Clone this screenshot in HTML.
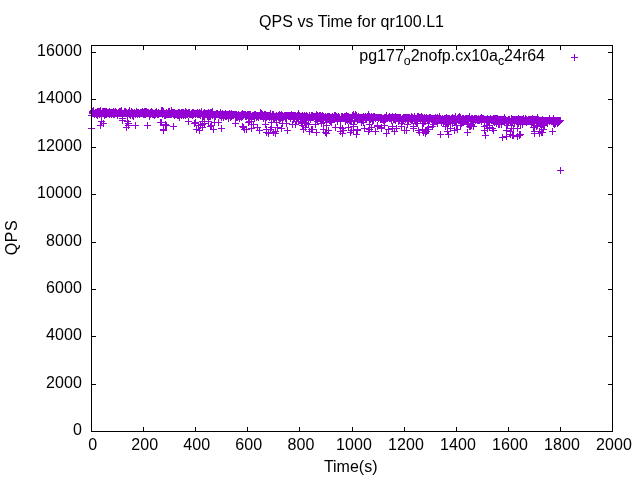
<!DOCTYPE html>
<html><head><meta charset="utf-8"><title>QPS vs Time for qr100.L1</title>
<style>
html,body{margin:0;padding:0;background:#fff;}
svg{display:block;}
text{font-family:"Liberation Sans",sans-serif;font-size:16px;fill:#000;}
</style></head><body>
<svg width="640" height="480" viewBox="0 0 640 480">
<rect width="640" height="480" fill="#fff"/>
<text x="351.55" y="27.3" text-anchor="middle" letter-spacing="0.04">QPS vs Time for qr100.L1</text>
<text transform="translate(16.7,237.5) rotate(-90)" text-anchor="middle" letter-spacing="0.5">QPS</text>
<text x="350.7" y="471.7" text-anchor="middle">Time(s)</text>
<text x="545" y="61" text-anchor="end">pg177<tspan font-size="12.4" dy="3.7">o</tspan><tspan dy="-3.7">2nofp.cx10a</tspan><tspan font-size="12.4" dy="3.7">c</tspan><tspan dy="-3.7">24r64</tspan></text>
<text x="82" y="435.0" text-anchor="end" letter-spacing="0.1">0</text><text x="82" y="388.0" text-anchor="end" letter-spacing="0.1">2000</text><text x="82" y="340.0" text-anchor="end" letter-spacing="0.1">4000</text><text x="82" y="293.0" text-anchor="end" letter-spacing="0.1">6000</text><text x="82" y="246.0" text-anchor="end" letter-spacing="0.1">8000</text><text x="82" y="198.0" text-anchor="end" letter-spacing="0.1">10000</text><text x="82" y="151.0" text-anchor="end" letter-spacing="0.1">12000</text><text x="82" y="103.0" text-anchor="end" letter-spacing="0.1">14000</text><text x="82" y="56.0" text-anchor="end" letter-spacing="0.1">16000</text><text x="92.8" y="450" text-anchor="middle" letter-spacing="0.1">0</text><text x="144.8" y="450" text-anchor="middle" letter-spacing="0.1">200</text><text x="196.8" y="450" text-anchor="middle" letter-spacing="0.1">400</text><text x="248.8" y="450" text-anchor="middle" letter-spacing="0.1">600</text><text x="300.9" y="450" text-anchor="middle" letter-spacing="0.1">800</text><text x="353.9" y="450" text-anchor="middle" letter-spacing="0.1">1000</text><text x="405.9" y="450" text-anchor="middle" letter-spacing="0.1">1200</text><text x="457.9" y="450" text-anchor="middle" letter-spacing="0.1">1400</text><text x="509.9" y="450" text-anchor="middle" letter-spacing="0.1">1600</text><text x="561.9" y="450" text-anchor="middle" letter-spacing="0.1">1800</text><text x="613.9" y="450" text-anchor="middle" letter-spacing="0.1">2000</text>
<path d="M88.0 128.5h7m-3.5-3.5v7M88.0 115.5h7m-3.5-3.5v7M89.0 112.5h7m-3.5-3.5v7M89.0 111.5h7m-3.5-3.5v7M89.0 113.5h7m-3.5-3.5v7M89.0 113.5h7m-3.5-3.5v7M90.0 113.5h7m-3.5-3.5v7M90.0 113.5h7m-3.5-3.5v7M90.0 112.5h7m-3.5-3.5v7M90.0 110.5h7m-3.5-3.5v7M91.0 114.5h7m-3.5-3.5v7M91.0 113.5h7m-3.5-3.5v7M91.0 113.5h7m-3.5-3.5v7M91.0 113.5h7m-3.5-3.5v7M92.0 113.5h7m-3.5-3.5v7M92.0 112.5h7m-3.5-3.5v7M92.0 112.5h7m-3.5-3.5v7M92.0 113.5h7m-3.5-3.5v7M93.0 112.5h7m-3.5-3.5v7M93.0 114.5h7m-3.5-3.5v7M93.0 112.5h7m-3.5-3.5v7M93.0 112.5h7m-3.5-3.5v7M94.0 114.5h7m-3.5-3.5v7M94.0 115.5h7m-3.5-3.5v7M94.0 111.5h7m-3.5-3.5v7M95.0 113.5h7m-3.5-3.5v7M95.0 111.5h7m-3.5-3.5v7M95.0 112.5h7m-3.5-3.5v7M95.0 112.5h7m-3.5-3.5v7M96.0 112.5h7m-3.5-3.5v7M96.0 113.5h7m-3.5-3.5v7M96.0 114.5h7m-3.5-3.5v7M96.0 111.5h7m-3.5-3.5v7M97.0 110.5h7m-3.5-3.5v7M97.0 110.5h7m-3.5-3.5v7M97.0 125.5h7m-3.5-3.5v7M97.0 113.5h7m-3.5-3.5v7M98.0 114.5h7m-3.5-3.5v7M98.0 121.5h7m-3.5-3.5v7M98.0 113.5h7m-3.5-3.5v7M98.0 114.5h7m-3.5-3.5v7M99.0 111.5h7m-3.5-3.5v7M99.0 112.5h7m-3.5-3.5v7M99.0 113.5h7m-3.5-3.5v7M99.0 113.5h7m-3.5-3.5v7M100.0 113.5h7m-3.5-3.5v7M100.0 123.5h7m-3.5-3.5v7M100.0 111.5h7m-3.5-3.5v7M101.0 112.5h7m-3.5-3.5v7M101.0 113.5h7m-3.5-3.5v7M101.0 111.5h7m-3.5-3.5v7M101.0 115.5h7m-3.5-3.5v7M102.0 113.5h7m-3.5-3.5v7M102.0 111.5h7m-3.5-3.5v7M102.0 112.5h7m-3.5-3.5v7M102.0 114.5h7m-3.5-3.5v7M103.0 113.5h7m-3.5-3.5v7M103.0 114.5h7m-3.5-3.5v7M103.0 113.5h7m-3.5-3.5v7M103.0 111.5h7m-3.5-3.5v7M104.0 112.5h7m-3.5-3.5v7M104.0 112.5h7m-3.5-3.5v7M104.0 112.5h7m-3.5-3.5v7M104.0 113.5h7m-3.5-3.5v7M105.0 113.5h7m-3.5-3.5v7M105.0 113.5h7m-3.5-3.5v7M105.0 112.5h7m-3.5-3.5v7M105.0 112.5h7m-3.5-3.5v7M106.0 112.5h7m-3.5-3.5v7M106.0 111.5h7m-3.5-3.5v7M106.0 114.5h7m-3.5-3.5v7M106.0 112.5h7m-3.5-3.5v7M107.0 112.5h7m-3.5-3.5v7M107.0 113.5h7m-3.5-3.5v7M107.0 113.5h7m-3.5-3.5v7M108.0 112.5h7m-3.5-3.5v7M108.0 114.5h7m-3.5-3.5v7M108.0 112.5h7m-3.5-3.5v7M108.0 112.5h7m-3.5-3.5v7M109.0 112.5h7m-3.5-3.5v7M109.0 113.5h7m-3.5-3.5v7M109.0 112.5h7m-3.5-3.5v7M109.0 112.5h7m-3.5-3.5v7M110.0 111.5h7m-3.5-3.5v7M110.0 114.5h7m-3.5-3.5v7M110.0 112.5h7m-3.5-3.5v7M110.0 113.5h7m-3.5-3.5v7M111.0 113.5h7m-3.5-3.5v7M111.0 114.5h7m-3.5-3.5v7M111.0 112.5h7m-3.5-3.5v7M111.0 113.5h7m-3.5-3.5v7M112.0 112.5h7m-3.5-3.5v7M112.0 113.5h7m-3.5-3.5v7M112.0 111.5h7m-3.5-3.5v7M112.0 113.5h7m-3.5-3.5v7M113.0 112.5h7m-3.5-3.5v7M113.0 112.5h7m-3.5-3.5v7M113.0 113.5h7m-3.5-3.5v7M114.0 115.5h7m-3.5-3.5v7M114.0 113.5h7m-3.5-3.5v7M114.0 113.5h7m-3.5-3.5v7M114.0 114.5h7m-3.5-3.5v7M115.0 113.5h7m-3.5-3.5v7M115.0 113.5h7m-3.5-3.5v7M115.0 112.5h7m-3.5-3.5v7M115.0 112.5h7m-3.5-3.5v7M116.0 113.5h7m-3.5-3.5v7M116.0 111.5h7m-3.5-3.5v7M116.0 112.5h7m-3.5-3.5v7M116.0 113.5h7m-3.5-3.5v7M117.0 112.5h7m-3.5-3.5v7M117.0 113.5h7m-3.5-3.5v7M117.0 111.5h7m-3.5-3.5v7M117.0 113.5h7m-3.5-3.5v7M118.0 113.5h7m-3.5-3.5v7M118.0 112.5h7m-3.5-3.5v7M118.0 113.5h7m-3.5-3.5v7M118.0 110.5h7m-3.5-3.5v7M119.0 113.5h7m-3.5-3.5v7M119.0 118.5h7m-3.5-3.5v7M119.0 120.5h7m-3.5-3.5v7M120.0 113.5h7m-3.5-3.5v7M120.0 113.5h7m-3.5-3.5v7M120.0 113.5h7m-3.5-3.5v7M120.0 113.5h7m-3.5-3.5v7M121.0 112.5h7m-3.5-3.5v7M121.0 113.5h7m-3.5-3.5v7M121.0 112.5h7m-3.5-3.5v7M121.0 111.5h7m-3.5-3.5v7M122.0 112.5h7m-3.5-3.5v7M122.0 111.5h7m-3.5-3.5v7M122.0 113.5h7m-3.5-3.5v7M122.0 113.5h7m-3.5-3.5v7M123.0 112.5h7m-3.5-3.5v7M123.0 127.5h7m-3.5-3.5v7M123.0 113.5h7m-3.5-3.5v7M123.0 113.5h7m-3.5-3.5v7M124.0 113.5h7m-3.5-3.5v7M124.0 121.5h7m-3.5-3.5v7M124.0 116.5h7m-3.5-3.5v7M124.0 113.5h7m-3.5-3.5v7M125.0 112.5h7m-3.5-3.5v7M125.0 123.5h7m-3.5-3.5v7M125.0 125.5h7m-3.5-3.5v7M126.0 112.5h7m-3.5-3.5v7M126.0 113.5h7m-3.5-3.5v7M126.0 110.5h7m-3.5-3.5v7M126.0 114.5h7m-3.5-3.5v7M127.0 113.5h7m-3.5-3.5v7M127.0 113.5h7m-3.5-3.5v7M127.0 115.5h7m-3.5-3.5v7M127.0 113.5h7m-3.5-3.5v7M128.0 111.5h7m-3.5-3.5v7M128.0 113.5h7m-3.5-3.5v7M128.0 113.5h7m-3.5-3.5v7M128.0 113.5h7m-3.5-3.5v7M129.0 112.5h7m-3.5-3.5v7M129.0 113.5h7m-3.5-3.5v7M129.0 115.5h7m-3.5-3.5v7M129.0 112.5h7m-3.5-3.5v7M130.0 114.5h7m-3.5-3.5v7M130.0 113.5h7m-3.5-3.5v7M130.0 116.5h7m-3.5-3.5v7M130.0 113.5h7m-3.5-3.5v7M131.0 112.5h7m-3.5-3.5v7M131.0 113.5h7m-3.5-3.5v7M131.0 113.5h7m-3.5-3.5v7M132.0 114.5h7m-3.5-3.5v7M132.0 113.5h7m-3.5-3.5v7M132.0 125.5h7m-3.5-3.5v7M132.0 113.5h7m-3.5-3.5v7M133.0 112.5h7m-3.5-3.5v7M133.0 112.5h7m-3.5-3.5v7M133.0 111.5h7m-3.5-3.5v7M133.0 112.5h7m-3.5-3.5v7M134.0 112.5h7m-3.5-3.5v7M134.0 114.5h7m-3.5-3.5v7M134.0 113.5h7m-3.5-3.5v7M134.0 113.5h7m-3.5-3.5v7M135.0 112.5h7m-3.5-3.5v7M135.0 113.5h7m-3.5-3.5v7M135.0 112.5h7m-3.5-3.5v7M135.0 112.5h7m-3.5-3.5v7M136.0 113.5h7m-3.5-3.5v7M136.0 114.5h7m-3.5-3.5v7M136.0 113.5h7m-3.5-3.5v7M136.0 114.5h7m-3.5-3.5v7M137.0 113.5h7m-3.5-3.5v7M137.0 112.5h7m-3.5-3.5v7M137.0 113.5h7m-3.5-3.5v7M137.0 113.5h7m-3.5-3.5v7M138.0 113.5h7m-3.5-3.5v7M138.0 113.5h7m-3.5-3.5v7M138.0 112.5h7m-3.5-3.5v7M139.0 111.5h7m-3.5-3.5v7M139.0 113.5h7m-3.5-3.5v7M139.0 112.5h7m-3.5-3.5v7M139.0 111.5h7m-3.5-3.5v7M140.0 112.5h7m-3.5-3.5v7M140.0 113.5h7m-3.5-3.5v7M140.0 113.5h7m-3.5-3.5v7M140.0 114.5h7m-3.5-3.5v7M141.0 112.5h7m-3.5-3.5v7M141.0 111.5h7m-3.5-3.5v7M141.0 114.5h7m-3.5-3.5v7M141.0 114.5h7m-3.5-3.5v7M142.0 114.5h7m-3.5-3.5v7M142.0 113.5h7m-3.5-3.5v7M142.0 114.5h7m-3.5-3.5v7M142.0 111.5h7m-3.5-3.5v7M143.0 113.5h7m-3.5-3.5v7M143.0 111.5h7m-3.5-3.5v7M143.0 113.5h7m-3.5-3.5v7M143.0 112.5h7m-3.5-3.5v7M144.0 113.5h7m-3.5-3.5v7M144.0 125.5h7m-3.5-3.5v7M144.0 112.5h7m-3.5-3.5v7M145.0 112.5h7m-3.5-3.5v7M145.0 112.5h7m-3.5-3.5v7M145.0 113.5h7m-3.5-3.5v7M145.0 112.5h7m-3.5-3.5v7M146.0 115.5h7m-3.5-3.5v7M146.0 113.5h7m-3.5-3.5v7M146.0 116.5h7m-3.5-3.5v7M146.0 113.5h7m-3.5-3.5v7M147.0 114.5h7m-3.5-3.5v7M147.0 112.5h7m-3.5-3.5v7M147.0 113.5h7m-3.5-3.5v7M147.0 113.5h7m-3.5-3.5v7M148.0 112.5h7m-3.5-3.5v7M148.0 113.5h7m-3.5-3.5v7M148.0 111.5h7m-3.5-3.5v7M148.0 113.5h7m-3.5-3.5v7M149.0 114.5h7m-3.5-3.5v7M149.0 112.5h7m-3.5-3.5v7M149.0 114.5h7m-3.5-3.5v7M149.0 114.5h7m-3.5-3.5v7M150.0 114.5h7m-3.5-3.5v7M150.0 113.5h7m-3.5-3.5v7M150.0 113.5h7m-3.5-3.5v7M151.0 114.5h7m-3.5-3.5v7M151.0 113.5h7m-3.5-3.5v7M151.0 113.5h7m-3.5-3.5v7M151.0 115.5h7m-3.5-3.5v7M152.0 113.5h7m-3.5-3.5v7M152.0 113.5h7m-3.5-3.5v7M152.0 114.5h7m-3.5-3.5v7M152.0 112.5h7m-3.5-3.5v7M153.0 111.5h7m-3.5-3.5v7M153.0 113.5h7m-3.5-3.5v7M153.0 113.5h7m-3.5-3.5v7M153.0 113.5h7m-3.5-3.5v7M154.0 113.5h7m-3.5-3.5v7M154.0 113.5h7m-3.5-3.5v7M154.0 114.5h7m-3.5-3.5v7M154.0 114.5h7m-3.5-3.5v7M155.0 113.5h7m-3.5-3.5v7M155.0 114.5h7m-3.5-3.5v7M155.0 112.5h7m-3.5-3.5v7M155.0 113.5h7m-3.5-3.5v7M156.0 113.5h7m-3.5-3.5v7M156.0 113.5h7m-3.5-3.5v7M156.0 113.5h7m-3.5-3.5v7M157.0 113.5h7m-3.5-3.5v7M157.0 113.5h7m-3.5-3.5v7M157.0 122.5h7m-3.5-3.5v7M157.0 113.5h7m-3.5-3.5v7M158.0 112.5h7m-3.5-3.5v7M158.0 110.5h7m-3.5-3.5v7M158.0 122.5h7m-3.5-3.5v7M158.0 113.5h7m-3.5-3.5v7M159.0 110.5h7m-3.5-3.5v7M159.0 114.5h7m-3.5-3.5v7M159.0 114.5h7m-3.5-3.5v7M159.0 113.5h7m-3.5-3.5v7M160.0 111.5h7m-3.5-3.5v7M160.0 129.5h7m-3.5-3.5v7M160.0 130.5h7m-3.5-3.5v7M160.0 113.5h7m-3.5-3.5v7M161.0 114.5h7m-3.5-3.5v7M161.0 113.5h7m-3.5-3.5v7M161.0 115.5h7m-3.5-3.5v7M161.0 115.5h7m-3.5-3.5v7M162.0 115.5h7m-3.5-3.5v7M162.0 125.5h7m-3.5-3.5v7M162.0 124.5h7m-3.5-3.5v7M163.0 112.5h7m-3.5-3.5v7M163.0 114.5h7m-3.5-3.5v7M163.0 125.5h7m-3.5-3.5v7M163.0 113.5h7m-3.5-3.5v7M164.0 114.5h7m-3.5-3.5v7M164.0 114.5h7m-3.5-3.5v7M164.0 113.5h7m-3.5-3.5v7M164.0 114.5h7m-3.5-3.5v7M165.0 111.5h7m-3.5-3.5v7M165.0 114.5h7m-3.5-3.5v7M165.0 113.5h7m-3.5-3.5v7M165.0 113.5h7m-3.5-3.5v7M166.0 111.5h7m-3.5-3.5v7M166.0 113.5h7m-3.5-3.5v7M166.0 114.5h7m-3.5-3.5v7M166.0 112.5h7m-3.5-3.5v7M167.0 113.5h7m-3.5-3.5v7M167.0 113.5h7m-3.5-3.5v7M167.0 114.5h7m-3.5-3.5v7M167.0 113.5h7m-3.5-3.5v7M168.0 110.5h7m-3.5-3.5v7M168.0 113.5h7m-3.5-3.5v7M168.0 114.5h7m-3.5-3.5v7M168.0 114.5h7m-3.5-3.5v7M169.0 113.5h7m-3.5-3.5v7M169.0 112.5h7m-3.5-3.5v7M169.0 113.5h7m-3.5-3.5v7M170.0 113.5h7m-3.5-3.5v7M170.0 114.5h7m-3.5-3.5v7M170.0 126.5h7m-3.5-3.5v7M170.0 112.5h7m-3.5-3.5v7M171.0 112.5h7m-3.5-3.5v7M171.0 113.5h7m-3.5-3.5v7M171.0 115.5h7m-3.5-3.5v7M171.0 114.5h7m-3.5-3.5v7M172.0 113.5h7m-3.5-3.5v7M172.0 113.5h7m-3.5-3.5v7M172.0 114.5h7m-3.5-3.5v7M172.0 114.5h7m-3.5-3.5v7M173.0 113.5h7m-3.5-3.5v7M173.0 114.5h7m-3.5-3.5v7M173.0 114.5h7m-3.5-3.5v7M173.0 114.5h7m-3.5-3.5v7M174.0 115.5h7m-3.5-3.5v7M174.0 113.5h7m-3.5-3.5v7M174.0 114.5h7m-3.5-3.5v7M174.0 114.5h7m-3.5-3.5v7M175.0 113.5h7m-3.5-3.5v7M175.0 112.5h7m-3.5-3.5v7M175.0 115.5h7m-3.5-3.5v7M176.0 115.5h7m-3.5-3.5v7M176.0 117.5h7m-3.5-3.5v7M176.0 114.5h7m-3.5-3.5v7M176.0 112.5h7m-3.5-3.5v7M177.0 114.5h7m-3.5-3.5v7M177.0 113.5h7m-3.5-3.5v7M177.0 113.5h7m-3.5-3.5v7M177.0 113.5h7m-3.5-3.5v7M178.0 113.5h7m-3.5-3.5v7M178.0 112.5h7m-3.5-3.5v7M178.0 115.5h7m-3.5-3.5v7M178.0 115.5h7m-3.5-3.5v7M179.0 112.5h7m-3.5-3.5v7M179.0 114.5h7m-3.5-3.5v7M179.0 114.5h7m-3.5-3.5v7M179.0 113.5h7m-3.5-3.5v7M180.0 113.5h7m-3.5-3.5v7M180.0 112.5h7m-3.5-3.5v7M180.0 113.5h7m-3.5-3.5v7M180.0 115.5h7m-3.5-3.5v7M181.0 113.5h7m-3.5-3.5v7M181.0 114.5h7m-3.5-3.5v7M181.0 113.5h7m-3.5-3.5v7M182.0 115.5h7m-3.5-3.5v7M182.0 113.5h7m-3.5-3.5v7M182.0 111.5h7m-3.5-3.5v7M182.0 114.5h7m-3.5-3.5v7M183.0 112.5h7m-3.5-3.5v7M183.0 112.5h7m-3.5-3.5v7M183.0 114.5h7m-3.5-3.5v7M183.0 113.5h7m-3.5-3.5v7M184.0 114.5h7m-3.5-3.5v7M184.0 114.5h7m-3.5-3.5v7M184.0 114.5h7m-3.5-3.5v7M184.0 113.5h7m-3.5-3.5v7M185.0 112.5h7m-3.5-3.5v7M185.0 113.5h7m-3.5-3.5v7M185.0 121.5h7m-3.5-3.5v7M185.0 113.5h7m-3.5-3.5v7M186.0 113.5h7m-3.5-3.5v7M186.0 114.5h7m-3.5-3.5v7M186.0 113.5h7m-3.5-3.5v7M186.0 112.5h7m-3.5-3.5v7M187.0 114.5h7m-3.5-3.5v7M187.0 114.5h7m-3.5-3.5v7M187.0 114.5h7m-3.5-3.5v7M188.0 113.5h7m-3.5-3.5v7M188.0 114.5h7m-3.5-3.5v7M188.0 113.5h7m-3.5-3.5v7M188.0 114.5h7m-3.5-3.5v7M189.0 114.5h7m-3.5-3.5v7M189.0 112.5h7m-3.5-3.5v7M189.0 115.5h7m-3.5-3.5v7M189.0 113.5h7m-3.5-3.5v7M190.0 112.5h7m-3.5-3.5v7M190.0 114.5h7m-3.5-3.5v7M190.0 114.5h7m-3.5-3.5v7M190.0 114.5h7m-3.5-3.5v7M191.0 113.5h7m-3.5-3.5v7M191.0 123.5h7m-3.5-3.5v7M191.0 113.5h7m-3.5-3.5v7M191.0 113.5h7m-3.5-3.5v7M192.0 114.5h7m-3.5-3.5v7M192.0 122.5h7m-3.5-3.5v7M192.0 113.5h7m-3.5-3.5v7M192.0 113.5h7m-3.5-3.5v7M193.0 113.5h7m-3.5-3.5v7M193.0 113.5h7m-3.5-3.5v7M193.0 129.5h7m-3.5-3.5v7M194.0 114.5h7m-3.5-3.5v7M194.0 112.5h7m-3.5-3.5v7M194.0 112.5h7m-3.5-3.5v7M194.0 114.5h7m-3.5-3.5v7M195.0 113.5h7m-3.5-3.5v7M195.0 125.5h7m-3.5-3.5v7M195.0 114.5h7m-3.5-3.5v7M195.0 114.5h7m-3.5-3.5v7M196.0 130.5h7m-3.5-3.5v7M196.0 112.5h7m-3.5-3.5v7M196.0 114.5h7m-3.5-3.5v7M196.0 114.5h7m-3.5-3.5v7M197.0 115.5h7m-3.5-3.5v7M197.0 114.5h7m-3.5-3.5v7M197.0 125.5h7m-3.5-3.5v7M197.0 113.5h7m-3.5-3.5v7M198.0 113.5h7m-3.5-3.5v7M198.0 113.5h7m-3.5-3.5v7M198.0 113.5h7m-3.5-3.5v7M198.0 111.5h7m-3.5-3.5v7M199.0 116.5h7m-3.5-3.5v7M199.0 121.5h7m-3.5-3.5v7M199.0 124.5h7m-3.5-3.5v7M199.0 127.5h7m-3.5-3.5v7M200.0 113.5h7m-3.5-3.5v7M200.0 114.5h7m-3.5-3.5v7M200.0 116.5h7m-3.5-3.5v7M201.0 116.5h7m-3.5-3.5v7M201.0 112.5h7m-3.5-3.5v7M201.0 123.5h7m-3.5-3.5v7M201.0 115.5h7m-3.5-3.5v7M202.0 114.5h7m-3.5-3.5v7M202.0 113.5h7m-3.5-3.5v7M202.0 114.5h7m-3.5-3.5v7M202.0 113.5h7m-3.5-3.5v7M203.0 114.5h7m-3.5-3.5v7M203.0 113.5h7m-3.5-3.5v7M203.0 113.5h7m-3.5-3.5v7M203.0 113.5h7m-3.5-3.5v7M204.0 114.5h7m-3.5-3.5v7M204.0 113.5h7m-3.5-3.5v7M204.0 113.5h7m-3.5-3.5v7M204.0 116.5h7m-3.5-3.5v7M205.0 112.5h7m-3.5-3.5v7M205.0 115.5h7m-3.5-3.5v7M205.0 121.5h7m-3.5-3.5v7M205.0 115.5h7m-3.5-3.5v7M206.0 114.5h7m-3.5-3.5v7M206.0 113.5h7m-3.5-3.5v7M206.0 116.5h7m-3.5-3.5v7M207.0 116.5h7m-3.5-3.5v7M207.0 126.5h7m-3.5-3.5v7M207.0 115.5h7m-3.5-3.5v7M207.0 112.5h7m-3.5-3.5v7M208.0 114.5h7m-3.5-3.5v7M208.0 112.5h7m-3.5-3.5v7M208.0 125.5h7m-3.5-3.5v7M208.0 125.5h7m-3.5-3.5v7M209.0 114.5h7m-3.5-3.5v7M209.0 114.5h7m-3.5-3.5v7M209.0 115.5h7m-3.5-3.5v7M209.0 111.5h7m-3.5-3.5v7M210.0 129.5h7m-3.5-3.5v7M210.0 114.5h7m-3.5-3.5v7M210.0 114.5h7m-3.5-3.5v7M210.0 114.5h7m-3.5-3.5v7M211.0 114.5h7m-3.5-3.5v7M211.0 114.5h7m-3.5-3.5v7M211.0 115.5h7m-3.5-3.5v7M211.0 122.5h7m-3.5-3.5v7M212.0 115.5h7m-3.5-3.5v7M212.0 114.5h7m-3.5-3.5v7M212.0 116.5h7m-3.5-3.5v7M213.0 114.5h7m-3.5-3.5v7M213.0 113.5h7m-3.5-3.5v7M213.0 114.5h7m-3.5-3.5v7M213.0 113.5h7m-3.5-3.5v7M214.0 114.5h7m-3.5-3.5v7M214.0 113.5h7m-3.5-3.5v7M214.0 113.5h7m-3.5-3.5v7M214.0 114.5h7m-3.5-3.5v7M215.0 114.5h7m-3.5-3.5v7M215.0 114.5h7m-3.5-3.5v7M215.0 114.5h7m-3.5-3.5v7M215.0 122.5h7m-3.5-3.5v7M216.0 114.5h7m-3.5-3.5v7M216.0 114.5h7m-3.5-3.5v7M216.0 115.5h7m-3.5-3.5v7M216.0 115.5h7m-3.5-3.5v7M217.0 115.5h7m-3.5-3.5v7M217.0 114.5h7m-3.5-3.5v7M217.0 115.5h7m-3.5-3.5v7M217.0 112.5h7m-3.5-3.5v7M218.0 114.5h7m-3.5-3.5v7M218.0 128.5h7m-3.5-3.5v7M218.0 117.5h7m-3.5-3.5v7M219.0 113.5h7m-3.5-3.5v7M219.0 115.5h7m-3.5-3.5v7M219.0 114.5h7m-3.5-3.5v7M219.0 114.5h7m-3.5-3.5v7M220.0 114.5h7m-3.5-3.5v7M220.0 114.5h7m-3.5-3.5v7M220.0 117.5h7m-3.5-3.5v7M220.0 115.5h7m-3.5-3.5v7M221.0 115.5h7m-3.5-3.5v7M221.0 114.5h7m-3.5-3.5v7M221.0 114.5h7m-3.5-3.5v7M221.0 114.5h7m-3.5-3.5v7M222.0 113.5h7m-3.5-3.5v7M222.0 114.5h7m-3.5-3.5v7M222.0 116.5h7m-3.5-3.5v7M222.0 115.5h7m-3.5-3.5v7M223.0 114.5h7m-3.5-3.5v7M223.0 114.5h7m-3.5-3.5v7M223.0 116.5h7m-3.5-3.5v7M223.0 114.5h7m-3.5-3.5v7M224.0 114.5h7m-3.5-3.5v7M224.0 114.5h7m-3.5-3.5v7M224.0 115.5h7m-3.5-3.5v7M225.0 116.5h7m-3.5-3.5v7M225.0 116.5h7m-3.5-3.5v7M225.0 118.5h7m-3.5-3.5v7M225.0 114.5h7m-3.5-3.5v7M226.0 115.5h7m-3.5-3.5v7M226.0 113.5h7m-3.5-3.5v7M226.0 113.5h7m-3.5-3.5v7M226.0 115.5h7m-3.5-3.5v7M227.0 116.5h7m-3.5-3.5v7M227.0 114.5h7m-3.5-3.5v7M227.0 114.5h7m-3.5-3.5v7M227.0 117.5h7m-3.5-3.5v7M228.0 115.5h7m-3.5-3.5v7M228.0 113.5h7m-3.5-3.5v7M228.0 116.5h7m-3.5-3.5v7M228.0 115.5h7m-3.5-3.5v7M229.0 114.5h7m-3.5-3.5v7M229.0 115.5h7m-3.5-3.5v7M229.0 115.5h7m-3.5-3.5v7M229.0 114.5h7m-3.5-3.5v7M230.0 115.5h7m-3.5-3.5v7M230.0 114.5h7m-3.5-3.5v7M230.0 114.5h7m-3.5-3.5v7M230.0 114.5h7m-3.5-3.5v7M231.0 114.5h7m-3.5-3.5v7M231.0 114.5h7m-3.5-3.5v7M231.0 114.5h7m-3.5-3.5v7M232.0 114.5h7m-3.5-3.5v7M232.0 123.5h7m-3.5-3.5v7M232.0 115.5h7m-3.5-3.5v7M232.0 117.5h7m-3.5-3.5v7M233.0 115.5h7m-3.5-3.5v7M233.0 116.5h7m-3.5-3.5v7M233.0 114.5h7m-3.5-3.5v7M233.0 117.5h7m-3.5-3.5v7M234.0 115.5h7m-3.5-3.5v7M234.0 115.5h7m-3.5-3.5v7M234.0 117.5h7m-3.5-3.5v7M234.0 115.5h7m-3.5-3.5v7M235.0 114.5h7m-3.5-3.5v7M235.0 116.5h7m-3.5-3.5v7M235.0 115.5h7m-3.5-3.5v7M235.0 114.5h7m-3.5-3.5v7M236.0 115.5h7m-3.5-3.5v7M236.0 116.5h7m-3.5-3.5v7M236.0 118.5h7m-3.5-3.5v7M236.0 115.5h7m-3.5-3.5v7M237.0 116.5h7m-3.5-3.5v7M237.0 115.5h7m-3.5-3.5v7M237.0 116.5h7m-3.5-3.5v7M238.0 115.5h7m-3.5-3.5v7M238.0 116.5h7m-3.5-3.5v7M238.0 117.5h7m-3.5-3.5v7M238.0 114.5h7m-3.5-3.5v7M239.0 126.5h7m-3.5-3.5v7M239.0 116.5h7m-3.5-3.5v7M239.0 114.5h7m-3.5-3.5v7M239.0 113.5h7m-3.5-3.5v7M240.0 114.5h7m-3.5-3.5v7M240.0 114.5h7m-3.5-3.5v7M240.0 127.5h7m-3.5-3.5v7M240.0 115.5h7m-3.5-3.5v7M241.0 114.5h7m-3.5-3.5v7M241.0 129.5h7m-3.5-3.5v7M241.0 114.5h7m-3.5-3.5v7M241.0 114.5h7m-3.5-3.5v7M242.0 115.5h7m-3.5-3.5v7M242.0 114.5h7m-3.5-3.5v7M242.0 114.5h7m-3.5-3.5v7M242.0 116.5h7m-3.5-3.5v7M243.0 116.5h7m-3.5-3.5v7M243.0 115.5h7m-3.5-3.5v7M243.0 129.5h7m-3.5-3.5v7M244.0 114.5h7m-3.5-3.5v7M244.0 114.5h7m-3.5-3.5v7M244.0 115.5h7m-3.5-3.5v7M244.0 115.5h7m-3.5-3.5v7M245.0 114.5h7m-3.5-3.5v7M245.0 116.5h7m-3.5-3.5v7M245.0 122.5h7m-3.5-3.5v7M245.0 116.5h7m-3.5-3.5v7M246.0 115.5h7m-3.5-3.5v7M246.0 117.5h7m-3.5-3.5v7M246.0 114.5h7m-3.5-3.5v7M246.0 121.5h7m-3.5-3.5v7M247.0 114.5h7m-3.5-3.5v7M247.0 114.5h7m-3.5-3.5v7M247.0 115.5h7m-3.5-3.5v7M247.0 116.5h7m-3.5-3.5v7M248.0 128.5h7m-3.5-3.5v7M248.0 121.5h7m-3.5-3.5v7M248.0 116.5h7m-3.5-3.5v7M248.0 117.5h7m-3.5-3.5v7M249.0 115.5h7m-3.5-3.5v7M249.0 116.5h7m-3.5-3.5v7M249.0 115.5h7m-3.5-3.5v7M250.0 115.5h7m-3.5-3.5v7M250.0 124.5h7m-3.5-3.5v7M250.0 115.5h7m-3.5-3.5v7M250.0 116.5h7m-3.5-3.5v7M251.0 117.5h7m-3.5-3.5v7M251.0 115.5h7m-3.5-3.5v7M251.0 114.5h7m-3.5-3.5v7M251.0 115.5h7m-3.5-3.5v7M252.0 115.5h7m-3.5-3.5v7M252.0 115.5h7m-3.5-3.5v7M252.0 114.5h7m-3.5-3.5v7M252.0 114.5h7m-3.5-3.5v7M253.0 115.5h7m-3.5-3.5v7M253.0 115.5h7m-3.5-3.5v7M253.0 117.5h7m-3.5-3.5v7M253.0 115.5h7m-3.5-3.5v7M254.0 116.5h7m-3.5-3.5v7M254.0 115.5h7m-3.5-3.5v7M254.0 116.5h7m-3.5-3.5v7M254.0 127.5h7m-3.5-3.5v7M255.0 115.5h7m-3.5-3.5v7M255.0 117.5h7m-3.5-3.5v7M255.0 117.5h7m-3.5-3.5v7M256.0 130.5h7m-3.5-3.5v7M256.0 115.5h7m-3.5-3.5v7M256.0 115.5h7m-3.5-3.5v7M256.0 115.5h7m-3.5-3.5v7M257.0 115.5h7m-3.5-3.5v7M257.0 115.5h7m-3.5-3.5v7M257.0 112.5h7m-3.5-3.5v7M257.0 116.5h7m-3.5-3.5v7M258.0 116.5h7m-3.5-3.5v7M258.0 113.5h7m-3.5-3.5v7M258.0 115.5h7m-3.5-3.5v7M258.0 115.5h7m-3.5-3.5v7M259.0 116.5h7m-3.5-3.5v7M259.0 114.5h7m-3.5-3.5v7M259.0 116.5h7m-3.5-3.5v7M259.0 116.5h7m-3.5-3.5v7M260.0 117.5h7m-3.5-3.5v7M260.0 118.5h7m-3.5-3.5v7M260.0 116.5h7m-3.5-3.5v7M260.0 118.5h7m-3.5-3.5v7M261.0 116.5h7m-3.5-3.5v7M261.0 114.5h7m-3.5-3.5v7M261.0 114.5h7m-3.5-3.5v7M261.0 115.5h7m-3.5-3.5v7M262.0 114.5h7m-3.5-3.5v7M262.0 124.5h7m-3.5-3.5v7M262.0 117.5h7m-3.5-3.5v7M263.0 129.5h7m-3.5-3.5v7M263.0 117.5h7m-3.5-3.5v7M263.0 115.5h7m-3.5-3.5v7M263.0 132.5h7m-3.5-3.5v7M264.0 116.5h7m-3.5-3.5v7M264.0 115.5h7m-3.5-3.5v7M264.0 116.5h7m-3.5-3.5v7M264.0 115.5h7m-3.5-3.5v7M265.0 116.5h7m-3.5-3.5v7M265.0 115.5h7m-3.5-3.5v7M265.0 115.5h7m-3.5-3.5v7M265.0 133.5h7m-3.5-3.5v7M266.0 117.5h7m-3.5-3.5v7M266.0 116.5h7m-3.5-3.5v7M266.0 115.5h7m-3.5-3.5v7M266.0 116.5h7m-3.5-3.5v7M267.0 129.5h7m-3.5-3.5v7M267.0 116.5h7m-3.5-3.5v7M267.0 116.5h7m-3.5-3.5v7M267.0 113.5h7m-3.5-3.5v7M268.0 116.5h7m-3.5-3.5v7M268.0 122.5h7m-3.5-3.5v7M268.0 127.5h7m-3.5-3.5v7M269.0 114.5h7m-3.5-3.5v7M269.0 116.5h7m-3.5-3.5v7M269.0 116.5h7m-3.5-3.5v7M269.0 116.5h7m-3.5-3.5v7M270.0 118.5h7m-3.5-3.5v7M270.0 132.5h7m-3.5-3.5v7M270.0 114.5h7m-3.5-3.5v7M270.0 115.5h7m-3.5-3.5v7M271.0 117.5h7m-3.5-3.5v7M271.0 116.5h7m-3.5-3.5v7M271.0 118.5h7m-3.5-3.5v7M271.0 116.5h7m-3.5-3.5v7M272.0 131.5h7m-3.5-3.5v7M272.0 116.5h7m-3.5-3.5v7M272.0 133.5h7m-3.5-3.5v7M272.0 117.5h7m-3.5-3.5v7M273.0 115.5h7m-3.5-3.5v7M273.0 115.5h7m-3.5-3.5v7M273.0 116.5h7m-3.5-3.5v7M273.0 122.5h7m-3.5-3.5v7M274.0 116.5h7m-3.5-3.5v7M274.0 127.5h7m-3.5-3.5v7M274.0 116.5h7m-3.5-3.5v7M275.0 117.5h7m-3.5-3.5v7M275.0 115.5h7m-3.5-3.5v7M275.0 116.5h7m-3.5-3.5v7M275.0 115.5h7m-3.5-3.5v7M276.0 116.5h7m-3.5-3.5v7M276.0 116.5h7m-3.5-3.5v7M276.0 118.5h7m-3.5-3.5v7M276.0 114.5h7m-3.5-3.5v7M277.0 115.5h7m-3.5-3.5v7M277.0 118.5h7m-3.5-3.5v7M277.0 116.5h7m-3.5-3.5v7M277.0 116.5h7m-3.5-3.5v7M278.0 128.5h7m-3.5-3.5v7M278.0 117.5h7m-3.5-3.5v7M278.0 114.5h7m-3.5-3.5v7M278.0 115.5h7m-3.5-3.5v7M279.0 116.5h7m-3.5-3.5v7M279.0 118.5h7m-3.5-3.5v7M279.0 115.5h7m-3.5-3.5v7M279.0 123.5h7m-3.5-3.5v7M280.0 116.5h7m-3.5-3.5v7M280.0 116.5h7m-3.5-3.5v7M280.0 117.5h7m-3.5-3.5v7M281.0 115.5h7m-3.5-3.5v7M281.0 116.5h7m-3.5-3.5v7M281.0 116.5h7m-3.5-3.5v7M281.0 116.5h7m-3.5-3.5v7M282.0 116.5h7m-3.5-3.5v7M282.0 115.5h7m-3.5-3.5v7M282.0 118.5h7m-3.5-3.5v7M282.0 115.5h7m-3.5-3.5v7M283.0 123.5h7m-3.5-3.5v7M283.0 118.5h7m-3.5-3.5v7M283.0 115.5h7m-3.5-3.5v7M283.0 116.5h7m-3.5-3.5v7M284.0 115.5h7m-3.5-3.5v7M284.0 115.5h7m-3.5-3.5v7M284.0 130.5h7m-3.5-3.5v7M284.0 115.5h7m-3.5-3.5v7M285.0 115.5h7m-3.5-3.5v7M285.0 116.5h7m-3.5-3.5v7M285.0 115.5h7m-3.5-3.5v7M285.0 116.5h7m-3.5-3.5v7M286.0 116.5h7m-3.5-3.5v7M286.0 116.5h7m-3.5-3.5v7M286.0 115.5h7m-3.5-3.5v7M287.0 118.5h7m-3.5-3.5v7M287.0 115.5h7m-3.5-3.5v7M287.0 116.5h7m-3.5-3.5v7M287.0 115.5h7m-3.5-3.5v7M288.0 114.5h7m-3.5-3.5v7M288.0 116.5h7m-3.5-3.5v7M288.0 115.5h7m-3.5-3.5v7M288.0 116.5h7m-3.5-3.5v7M289.0 124.5h7m-3.5-3.5v7M289.0 115.5h7m-3.5-3.5v7M289.0 115.5h7m-3.5-3.5v7M289.0 115.5h7m-3.5-3.5v7M290.0 116.5h7m-3.5-3.5v7M290.0 117.5h7m-3.5-3.5v7M290.0 119.5h7m-3.5-3.5v7M290.0 115.5h7m-3.5-3.5v7M291.0 118.5h7m-3.5-3.5v7M291.0 115.5h7m-3.5-3.5v7M291.0 116.5h7m-3.5-3.5v7M291.0 117.5h7m-3.5-3.5v7M292.0 116.5h7m-3.5-3.5v7M292.0 124.5h7m-3.5-3.5v7M292.0 116.5h7m-3.5-3.5v7M292.0 115.5h7m-3.5-3.5v7M293.0 116.5h7m-3.5-3.5v7M293.0 117.5h7m-3.5-3.5v7M293.0 121.5h7m-3.5-3.5v7M294.0 118.5h7m-3.5-3.5v7M294.0 116.5h7m-3.5-3.5v7M294.0 115.5h7m-3.5-3.5v7M294.0 117.5h7m-3.5-3.5v7M295.0 116.5h7m-3.5-3.5v7M295.0 118.5h7m-3.5-3.5v7M295.0 116.5h7m-3.5-3.5v7M295.0 113.5h7m-3.5-3.5v7M296.0 116.5h7m-3.5-3.5v7M296.0 116.5h7m-3.5-3.5v7M296.0 115.5h7m-3.5-3.5v7M296.0 116.5h7m-3.5-3.5v7M297.0 117.5h7m-3.5-3.5v7M297.0 116.5h7m-3.5-3.5v7M297.0 119.5h7m-3.5-3.5v7M297.0 116.5h7m-3.5-3.5v7M298.0 122.5h7m-3.5-3.5v7M298.0 117.5h7m-3.5-3.5v7M298.0 116.5h7m-3.5-3.5v7M298.0 123.5h7m-3.5-3.5v7M299.0 125.5h7m-3.5-3.5v7M299.0 118.5h7m-3.5-3.5v7M299.0 115.5h7m-3.5-3.5v7M300.0 116.5h7m-3.5-3.5v7M300.0 129.5h7m-3.5-3.5v7M300.0 116.5h7m-3.5-3.5v7M300.0 119.5h7m-3.5-3.5v7M301.0 116.5h7m-3.5-3.5v7M301.0 116.5h7m-3.5-3.5v7M301.0 115.5h7m-3.5-3.5v7M301.0 122.5h7m-3.5-3.5v7M302.0 127.5h7m-3.5-3.5v7M302.0 116.5h7m-3.5-3.5v7M302.0 116.5h7m-3.5-3.5v7M302.0 119.5h7m-3.5-3.5v7M303.0 115.5h7m-3.5-3.5v7M303.0 123.5h7m-3.5-3.5v7M303.0 117.5h7m-3.5-3.5v7M303.0 116.5h7m-3.5-3.5v7M304.0 116.5h7m-3.5-3.5v7M304.0 116.5h7m-3.5-3.5v7M304.0 117.5h7m-3.5-3.5v7M304.0 116.5h7m-3.5-3.5v7M305.0 124.5h7m-3.5-3.5v7M305.0 117.5h7m-3.5-3.5v7M305.0 117.5h7m-3.5-3.5v7M306.0 115.5h7m-3.5-3.5v7M306.0 116.5h7m-3.5-3.5v7M306.0 131.5h7m-3.5-3.5v7M306.0 117.5h7m-3.5-3.5v7M307.0 119.5h7m-3.5-3.5v7M307.0 117.5h7m-3.5-3.5v7M307.0 117.5h7m-3.5-3.5v7M307.0 117.5h7m-3.5-3.5v7M308.0 117.5h7m-3.5-3.5v7M308.0 129.5h7m-3.5-3.5v7M308.0 115.5h7m-3.5-3.5v7M308.0 129.5h7m-3.5-3.5v7M309.0 116.5h7m-3.5-3.5v7M309.0 115.5h7m-3.5-3.5v7M309.0 117.5h7m-3.5-3.5v7M309.0 129.5h7m-3.5-3.5v7M310.0 116.5h7m-3.5-3.5v7M310.0 116.5h7m-3.5-3.5v7M310.0 117.5h7m-3.5-3.5v7M310.0 117.5h7m-3.5-3.5v7M311.0 116.5h7m-3.5-3.5v7M311.0 116.5h7m-3.5-3.5v7M311.0 116.5h7m-3.5-3.5v7M312.0 116.5h7m-3.5-3.5v7M312.0 117.5h7m-3.5-3.5v7M312.0 124.5h7m-3.5-3.5v7M312.0 117.5h7m-3.5-3.5v7M313.0 114.5h7m-3.5-3.5v7M313.0 119.5h7m-3.5-3.5v7M313.0 116.5h7m-3.5-3.5v7M313.0 132.5h7m-3.5-3.5v7M314.0 116.5h7m-3.5-3.5v7M314.0 121.5h7m-3.5-3.5v7M314.0 117.5h7m-3.5-3.5v7M314.0 115.5h7m-3.5-3.5v7M315.0 117.5h7m-3.5-3.5v7M315.0 116.5h7m-3.5-3.5v7M315.0 117.5h7m-3.5-3.5v7M315.0 117.5h7m-3.5-3.5v7M316.0 115.5h7m-3.5-3.5v7M316.0 116.5h7m-3.5-3.5v7M316.0 118.5h7m-3.5-3.5v7M316.0 117.5h7m-3.5-3.5v7M317.0 119.5h7m-3.5-3.5v7M317.0 118.5h7m-3.5-3.5v7M317.0 115.5h7m-3.5-3.5v7M318.0 117.5h7m-3.5-3.5v7M318.0 116.5h7m-3.5-3.5v7M318.0 117.5h7m-3.5-3.5v7M318.0 123.5h7m-3.5-3.5v7M319.0 115.5h7m-3.5-3.5v7M319.0 118.5h7m-3.5-3.5v7M319.0 117.5h7m-3.5-3.5v7M319.0 118.5h7m-3.5-3.5v7M320.0 129.5h7m-3.5-3.5v7M320.0 116.5h7m-3.5-3.5v7M320.0 116.5h7m-3.5-3.5v7M320.0 122.5h7m-3.5-3.5v7M321.0 117.5h7m-3.5-3.5v7M321.0 117.5h7m-3.5-3.5v7M321.0 117.5h7m-3.5-3.5v7M321.0 117.5h7m-3.5-3.5v7M322.0 132.5h7m-3.5-3.5v7M322.0 116.5h7m-3.5-3.5v7M322.0 117.5h7m-3.5-3.5v7M322.0 119.5h7m-3.5-3.5v7M323.0 125.5h7m-3.5-3.5v7M323.0 117.5h7m-3.5-3.5v7M323.0 119.5h7m-3.5-3.5v7M323.0 133.5h7m-3.5-3.5v7M324.0 117.5h7m-3.5-3.5v7M324.0 119.5h7m-3.5-3.5v7M324.0 116.5h7m-3.5-3.5v7M325.0 116.5h7m-3.5-3.5v7M325.0 117.5h7m-3.5-3.5v7M325.0 130.5h7m-3.5-3.5v7M325.0 116.5h7m-3.5-3.5v7M326.0 118.5h7m-3.5-3.5v7M326.0 116.5h7m-3.5-3.5v7M326.0 119.5h7m-3.5-3.5v7M326.0 120.5h7m-3.5-3.5v7M327.0 117.5h7m-3.5-3.5v7M327.0 121.5h7m-3.5-3.5v7M327.0 119.5h7m-3.5-3.5v7M327.0 117.5h7m-3.5-3.5v7M328.0 117.5h7m-3.5-3.5v7M328.0 118.5h7m-3.5-3.5v7M328.0 119.5h7m-3.5-3.5v7M328.0 122.5h7m-3.5-3.5v7M329.0 117.5h7m-3.5-3.5v7M329.0 118.5h7m-3.5-3.5v7M329.0 119.5h7m-3.5-3.5v7M329.0 116.5h7m-3.5-3.5v7M330.0 117.5h7m-3.5-3.5v7M330.0 117.5h7m-3.5-3.5v7M330.0 117.5h7m-3.5-3.5v7M331.0 115.5h7m-3.5-3.5v7M331.0 117.5h7m-3.5-3.5v7M331.0 117.5h7m-3.5-3.5v7M331.0 117.5h7m-3.5-3.5v7M332.0 127.5h7m-3.5-3.5v7M332.0 117.5h7m-3.5-3.5v7M332.0 115.5h7m-3.5-3.5v7M332.0 116.5h7m-3.5-3.5v7M333.0 118.5h7m-3.5-3.5v7M333.0 117.5h7m-3.5-3.5v7M333.0 116.5h7m-3.5-3.5v7M333.0 116.5h7m-3.5-3.5v7M334.0 117.5h7m-3.5-3.5v7M334.0 121.5h7m-3.5-3.5v7M334.0 117.5h7m-3.5-3.5v7M334.0 121.5h7m-3.5-3.5v7M335.0 117.5h7m-3.5-3.5v7M335.0 117.5h7m-3.5-3.5v7M335.0 116.5h7m-3.5-3.5v7M335.0 117.5h7m-3.5-3.5v7M336.0 117.5h7m-3.5-3.5v7M336.0 117.5h7m-3.5-3.5v7M336.0 117.5h7m-3.5-3.5v7M337.0 119.5h7m-3.5-3.5v7M337.0 127.5h7m-3.5-3.5v7M337.0 120.5h7m-3.5-3.5v7M337.0 131.5h7m-3.5-3.5v7M338.0 118.5h7m-3.5-3.5v7M338.0 116.5h7m-3.5-3.5v7M338.0 117.5h7m-3.5-3.5v7M338.0 117.5h7m-3.5-3.5v7M339.0 128.5h7m-3.5-3.5v7M339.0 116.5h7m-3.5-3.5v7M339.0 133.5h7m-3.5-3.5v7M339.0 116.5h7m-3.5-3.5v7M340.0 118.5h7m-3.5-3.5v7M340.0 130.5h7m-3.5-3.5v7M340.0 118.5h7m-3.5-3.5v7M340.0 117.5h7m-3.5-3.5v7M341.0 116.5h7m-3.5-3.5v7M341.0 118.5h7m-3.5-3.5v7M341.0 117.5h7m-3.5-3.5v7M341.0 116.5h7m-3.5-3.5v7M342.0 116.5h7m-3.5-3.5v7M342.0 117.5h7m-3.5-3.5v7M342.0 121.5h7m-3.5-3.5v7M343.0 119.5h7m-3.5-3.5v7M343.0 116.5h7m-3.5-3.5v7M343.0 118.5h7m-3.5-3.5v7M343.0 115.5h7m-3.5-3.5v7M344.0 117.5h7m-3.5-3.5v7M344.0 116.5h7m-3.5-3.5v7M344.0 116.5h7m-3.5-3.5v7M344.0 120.5h7m-3.5-3.5v7M345.0 127.5h7m-3.5-3.5v7M345.0 116.5h7m-3.5-3.5v7M345.0 119.5h7m-3.5-3.5v7M345.0 119.5h7m-3.5-3.5v7M346.0 117.5h7m-3.5-3.5v7M346.0 120.5h7m-3.5-3.5v7M346.0 120.5h7m-3.5-3.5v7M346.0 117.5h7m-3.5-3.5v7M347.0 120.5h7m-3.5-3.5v7M347.0 132.5h7m-3.5-3.5v7M347.0 117.5h7m-3.5-3.5v7M347.0 117.5h7m-3.5-3.5v7M348.0 121.5h7m-3.5-3.5v7M348.0 130.5h7m-3.5-3.5v7M348.0 118.5h7m-3.5-3.5v7M349.0 117.5h7m-3.5-3.5v7M349.0 117.5h7m-3.5-3.5v7M349.0 117.5h7m-3.5-3.5v7M349.0 115.5h7m-3.5-3.5v7M350.0 114.5h7m-3.5-3.5v7M350.0 126.5h7m-3.5-3.5v7M350.0 130.5h7m-3.5-3.5v7M350.0 124.5h7m-3.5-3.5v7M351.0 116.5h7m-3.5-3.5v7M351.0 117.5h7m-3.5-3.5v7M351.0 121.5h7m-3.5-3.5v7M351.0 116.5h7m-3.5-3.5v7M352.0 114.5h7m-3.5-3.5v7M352.0 117.5h7m-3.5-3.5v7M352.0 116.5h7m-3.5-3.5v7M352.0 115.5h7m-3.5-3.5v7M353.0 115.5h7m-3.5-3.5v7M353.0 134.5h7m-3.5-3.5v7M353.0 118.5h7m-3.5-3.5v7M353.0 117.5h7m-3.5-3.5v7M354.0 120.5h7m-3.5-3.5v7M354.0 129.5h7m-3.5-3.5v7M354.0 117.5h7m-3.5-3.5v7M354.0 130.5h7m-3.5-3.5v7M355.0 117.5h7m-3.5-3.5v7M355.0 119.5h7m-3.5-3.5v7M355.0 116.5h7m-3.5-3.5v7M356.0 118.5h7m-3.5-3.5v7M356.0 117.5h7m-3.5-3.5v7M356.0 118.5h7m-3.5-3.5v7M356.0 118.5h7m-3.5-3.5v7M357.0 117.5h7m-3.5-3.5v7M357.0 118.5h7m-3.5-3.5v7M357.0 118.5h7m-3.5-3.5v7M357.0 117.5h7m-3.5-3.5v7M358.0 117.5h7m-3.5-3.5v7M358.0 117.5h7m-3.5-3.5v7M358.0 122.5h7m-3.5-3.5v7M358.0 117.5h7m-3.5-3.5v7M359.0 117.5h7m-3.5-3.5v7M359.0 117.5h7m-3.5-3.5v7M359.0 117.5h7m-3.5-3.5v7M359.0 120.5h7m-3.5-3.5v7M360.0 116.5h7m-3.5-3.5v7M360.0 122.5h7m-3.5-3.5v7M360.0 122.5h7m-3.5-3.5v7M360.0 117.5h7m-3.5-3.5v7M361.0 128.5h7m-3.5-3.5v7M361.0 117.5h7m-3.5-3.5v7M361.0 117.5h7m-3.5-3.5v7M362.0 118.5h7m-3.5-3.5v7M362.0 117.5h7m-3.5-3.5v7M362.0 116.5h7m-3.5-3.5v7M362.0 116.5h7m-3.5-3.5v7M363.0 118.5h7m-3.5-3.5v7M363.0 119.5h7m-3.5-3.5v7M363.0 118.5h7m-3.5-3.5v7M363.0 117.5h7m-3.5-3.5v7M364.0 117.5h7m-3.5-3.5v7M364.0 117.5h7m-3.5-3.5v7M364.0 116.5h7m-3.5-3.5v7M364.0 117.5h7m-3.5-3.5v7M365.0 117.5h7m-3.5-3.5v7M365.0 114.5h7m-3.5-3.5v7M365.0 131.5h7m-3.5-3.5v7M365.0 117.5h7m-3.5-3.5v7M366.0 117.5h7m-3.5-3.5v7M366.0 129.5h7m-3.5-3.5v7M366.0 116.5h7m-3.5-3.5v7M366.0 124.5h7m-3.5-3.5v7M367.0 117.5h7m-3.5-3.5v7M367.0 119.5h7m-3.5-3.5v7M367.0 118.5h7m-3.5-3.5v7M368.0 118.5h7m-3.5-3.5v7M368.0 127.5h7m-3.5-3.5v7M368.0 116.5h7m-3.5-3.5v7M368.0 116.5h7m-3.5-3.5v7M369.0 120.5h7m-3.5-3.5v7M369.0 118.5h7m-3.5-3.5v7M369.0 117.5h7m-3.5-3.5v7M369.0 117.5h7m-3.5-3.5v7M370.0 118.5h7m-3.5-3.5v7M370.0 116.5h7m-3.5-3.5v7M370.0 119.5h7m-3.5-3.5v7M370.0 120.5h7m-3.5-3.5v7M371.0 117.5h7m-3.5-3.5v7M371.0 117.5h7m-3.5-3.5v7M371.0 116.5h7m-3.5-3.5v7M371.0 117.5h7m-3.5-3.5v7M372.0 118.5h7m-3.5-3.5v7M372.0 118.5h7m-3.5-3.5v7M372.0 117.5h7m-3.5-3.5v7M372.0 131.5h7m-3.5-3.5v7M373.0 117.5h7m-3.5-3.5v7M373.0 117.5h7m-3.5-3.5v7M373.0 117.5h7m-3.5-3.5v7M374.0 117.5h7m-3.5-3.5v7M374.0 125.5h7m-3.5-3.5v7M374.0 126.5h7m-3.5-3.5v7M374.0 117.5h7m-3.5-3.5v7M375.0 117.5h7m-3.5-3.5v7M375.0 117.5h7m-3.5-3.5v7M375.0 118.5h7m-3.5-3.5v7M375.0 117.5h7m-3.5-3.5v7M376.0 117.5h7m-3.5-3.5v7M376.0 117.5h7m-3.5-3.5v7M376.0 117.5h7m-3.5-3.5v7M376.0 117.5h7m-3.5-3.5v7M377.0 117.5h7m-3.5-3.5v7M377.0 117.5h7m-3.5-3.5v7M377.0 117.5h7m-3.5-3.5v7M377.0 119.5h7m-3.5-3.5v7M378.0 127.5h7m-3.5-3.5v7M378.0 117.5h7m-3.5-3.5v7M378.0 128.5h7m-3.5-3.5v7M378.0 119.5h7m-3.5-3.5v7M379.0 118.5h7m-3.5-3.5v7M379.0 118.5h7m-3.5-3.5v7M379.0 119.5h7m-3.5-3.5v7M379.0 119.5h7m-3.5-3.5v7M380.0 120.5h7m-3.5-3.5v7M380.0 118.5h7m-3.5-3.5v7M380.0 118.5h7m-3.5-3.5v7M381.0 117.5h7m-3.5-3.5v7M381.0 119.5h7m-3.5-3.5v7M381.0 117.5h7m-3.5-3.5v7M381.0 125.5h7m-3.5-3.5v7M382.0 118.5h7m-3.5-3.5v7M382.0 117.5h7m-3.5-3.5v7M382.0 117.5h7m-3.5-3.5v7M382.0 119.5h7m-3.5-3.5v7M383.0 115.5h7m-3.5-3.5v7M383.0 118.5h7m-3.5-3.5v7M383.0 133.5h7m-3.5-3.5v7M383.0 118.5h7m-3.5-3.5v7M384.0 118.5h7m-3.5-3.5v7M384.0 118.5h7m-3.5-3.5v7M384.0 118.5h7m-3.5-3.5v7M384.0 118.5h7m-3.5-3.5v7M385.0 117.5h7m-3.5-3.5v7M385.0 117.5h7m-3.5-3.5v7M385.0 129.5h7m-3.5-3.5v7M385.0 117.5h7m-3.5-3.5v7M386.0 118.5h7m-3.5-3.5v7M386.0 118.5h7m-3.5-3.5v7M386.0 116.5h7m-3.5-3.5v7M387.0 117.5h7m-3.5-3.5v7M387.0 117.5h7m-3.5-3.5v7M387.0 118.5h7m-3.5-3.5v7M387.0 117.5h7m-3.5-3.5v7M388.0 119.5h7m-3.5-3.5v7M388.0 120.5h7m-3.5-3.5v7M388.0 117.5h7m-3.5-3.5v7M388.0 117.5h7m-3.5-3.5v7M389.0 128.5h7m-3.5-3.5v7M389.0 117.5h7m-3.5-3.5v7M389.0 126.5h7m-3.5-3.5v7M389.0 116.5h7m-3.5-3.5v7M390.0 117.5h7m-3.5-3.5v7M390.0 119.5h7m-3.5-3.5v7M390.0 118.5h7m-3.5-3.5v7M390.0 117.5h7m-3.5-3.5v7M391.0 131.5h7m-3.5-3.5v7M391.0 119.5h7m-3.5-3.5v7M391.0 117.5h7m-3.5-3.5v7M391.0 118.5h7m-3.5-3.5v7M392.0 116.5h7m-3.5-3.5v7M392.0 120.5h7m-3.5-3.5v7M392.0 120.5h7m-3.5-3.5v7M393.0 117.5h7m-3.5-3.5v7M393.0 117.5h7m-3.5-3.5v7M393.0 118.5h7m-3.5-3.5v7M393.0 128.5h7m-3.5-3.5v7M394.0 117.5h7m-3.5-3.5v7M394.0 117.5h7m-3.5-3.5v7M394.0 118.5h7m-3.5-3.5v7M394.0 118.5h7m-3.5-3.5v7M395.0 120.5h7m-3.5-3.5v7M395.0 117.5h7m-3.5-3.5v7M395.0 117.5h7m-3.5-3.5v7M395.0 121.5h7m-3.5-3.5v7M396.0 120.5h7m-3.5-3.5v7M396.0 118.5h7m-3.5-3.5v7M396.0 118.5h7m-3.5-3.5v7M396.0 117.5h7m-3.5-3.5v7M397.0 118.5h7m-3.5-3.5v7M397.0 117.5h7m-3.5-3.5v7M397.0 117.5h7m-3.5-3.5v7M397.0 118.5h7m-3.5-3.5v7M398.0 126.5h7m-3.5-3.5v7M398.0 123.5h7m-3.5-3.5v7M398.0 119.5h7m-3.5-3.5v7M399.0 121.5h7m-3.5-3.5v7M399.0 119.5h7m-3.5-3.5v7M399.0 118.5h7m-3.5-3.5v7M399.0 118.5h7m-3.5-3.5v7M400.0 118.5h7m-3.5-3.5v7M400.0 119.5h7m-3.5-3.5v7M400.0 117.5h7m-3.5-3.5v7M400.0 118.5h7m-3.5-3.5v7M401.0 118.5h7m-3.5-3.5v7M401.0 117.5h7m-3.5-3.5v7M401.0 130.5h7m-3.5-3.5v7M401.0 117.5h7m-3.5-3.5v7M402.0 119.5h7m-3.5-3.5v7M402.0 117.5h7m-3.5-3.5v7M402.0 118.5h7m-3.5-3.5v7M402.0 118.5h7m-3.5-3.5v7M403.0 117.5h7m-3.5-3.5v7M403.0 117.5h7m-3.5-3.5v7M403.0 130.5h7m-3.5-3.5v7M403.0 118.5h7m-3.5-3.5v7M404.0 124.5h7m-3.5-3.5v7M404.0 117.5h7m-3.5-3.5v7M404.0 117.5h7m-3.5-3.5v7M405.0 117.5h7m-3.5-3.5v7M405.0 120.5h7m-3.5-3.5v7M405.0 117.5h7m-3.5-3.5v7M405.0 118.5h7m-3.5-3.5v7M406.0 117.5h7m-3.5-3.5v7M406.0 118.5h7m-3.5-3.5v7M406.0 118.5h7m-3.5-3.5v7M406.0 118.5h7m-3.5-3.5v7M407.0 118.5h7m-3.5-3.5v7M407.0 119.5h7m-3.5-3.5v7M407.0 118.5h7m-3.5-3.5v7M407.0 119.5h7m-3.5-3.5v7M408.0 118.5h7m-3.5-3.5v7M408.0 119.5h7m-3.5-3.5v7M408.0 116.5h7m-3.5-3.5v7M408.0 120.5h7m-3.5-3.5v7M409.0 118.5h7m-3.5-3.5v7M409.0 120.5h7m-3.5-3.5v7M409.0 118.5h7m-3.5-3.5v7M409.0 117.5h7m-3.5-3.5v7M410.0 118.5h7m-3.5-3.5v7M410.0 126.5h7m-3.5-3.5v7M410.0 128.5h7m-3.5-3.5v7M410.0 118.5h7m-3.5-3.5v7M411.0 117.5h7m-3.5-3.5v7M411.0 119.5h7m-3.5-3.5v7M411.0 116.5h7m-3.5-3.5v7M412.0 120.5h7m-3.5-3.5v7M412.0 118.5h7m-3.5-3.5v7M412.0 118.5h7m-3.5-3.5v7M412.0 121.5h7m-3.5-3.5v7M413.0 123.5h7m-3.5-3.5v7M413.0 118.5h7m-3.5-3.5v7M413.0 119.5h7m-3.5-3.5v7M413.0 118.5h7m-3.5-3.5v7M414.0 116.5h7m-3.5-3.5v7M414.0 118.5h7m-3.5-3.5v7M414.0 118.5h7m-3.5-3.5v7M414.0 123.5h7m-3.5-3.5v7M415.0 117.5h7m-3.5-3.5v7M415.0 130.5h7m-3.5-3.5v7M415.0 116.5h7m-3.5-3.5v7M415.0 118.5h7m-3.5-3.5v7M416.0 118.5h7m-3.5-3.5v7M416.0 132.5h7m-3.5-3.5v7M416.0 118.5h7m-3.5-3.5v7M416.0 117.5h7m-3.5-3.5v7M417.0 119.5h7m-3.5-3.5v7M417.0 117.5h7m-3.5-3.5v7M417.0 119.5h7m-3.5-3.5v7M418.0 116.5h7m-3.5-3.5v7M418.0 118.5h7m-3.5-3.5v7M418.0 118.5h7m-3.5-3.5v7M418.0 118.5h7m-3.5-3.5v7M419.0 123.5h7m-3.5-3.5v7M419.0 117.5h7m-3.5-3.5v7M419.0 129.5h7m-3.5-3.5v7M419.0 119.5h7m-3.5-3.5v7M420.0 118.5h7m-3.5-3.5v7M420.0 132.5h7m-3.5-3.5v7M420.0 123.5h7m-3.5-3.5v7M420.0 118.5h7m-3.5-3.5v7M421.0 118.5h7m-3.5-3.5v7M421.0 121.5h7m-3.5-3.5v7M421.0 117.5h7m-3.5-3.5v7M421.0 118.5h7m-3.5-3.5v7M422.0 118.5h7m-3.5-3.5v7M422.0 133.5h7m-3.5-3.5v7M422.0 130.5h7m-3.5-3.5v7M422.0 121.5h7m-3.5-3.5v7M423.0 131.5h7m-3.5-3.5v7M423.0 117.5h7m-3.5-3.5v7M423.0 118.5h7m-3.5-3.5v7M424.0 118.5h7m-3.5-3.5v7M424.0 129.5h7m-3.5-3.5v7M424.0 119.5h7m-3.5-3.5v7M424.0 120.5h7m-3.5-3.5v7M425.0 118.5h7m-3.5-3.5v7M425.0 129.5h7m-3.5-3.5v7M425.0 120.5h7m-3.5-3.5v7M425.0 127.5h7m-3.5-3.5v7M426.0 118.5h7m-3.5-3.5v7M426.0 120.5h7m-3.5-3.5v7M426.0 117.5h7m-3.5-3.5v7M426.0 118.5h7m-3.5-3.5v7M427.0 117.5h7m-3.5-3.5v7M427.0 118.5h7m-3.5-3.5v7M427.0 118.5h7m-3.5-3.5v7M427.0 117.5h7m-3.5-3.5v7M428.0 119.5h7m-3.5-3.5v7M428.0 118.5h7m-3.5-3.5v7M428.0 118.5h7m-3.5-3.5v7M428.0 118.5h7m-3.5-3.5v7M429.0 118.5h7m-3.5-3.5v7M429.0 126.5h7m-3.5-3.5v7M429.0 119.5h7m-3.5-3.5v7M430.0 118.5h7m-3.5-3.5v7M430.0 124.5h7m-3.5-3.5v7M430.0 118.5h7m-3.5-3.5v7M430.0 118.5h7m-3.5-3.5v7M431.0 119.5h7m-3.5-3.5v7M431.0 119.5h7m-3.5-3.5v7M431.0 119.5h7m-3.5-3.5v7M431.0 118.5h7m-3.5-3.5v7M432.0 118.5h7m-3.5-3.5v7M432.0 117.5h7m-3.5-3.5v7M432.0 120.5h7m-3.5-3.5v7M432.0 121.5h7m-3.5-3.5v7M433.0 120.5h7m-3.5-3.5v7M433.0 118.5h7m-3.5-3.5v7M433.0 118.5h7m-3.5-3.5v7M433.0 118.5h7m-3.5-3.5v7M434.0 119.5h7m-3.5-3.5v7M434.0 123.5h7m-3.5-3.5v7M434.0 123.5h7m-3.5-3.5v7M434.0 117.5h7m-3.5-3.5v7M435.0 118.5h7m-3.5-3.5v7M435.0 119.5h7m-3.5-3.5v7M435.0 118.5h7m-3.5-3.5v7M436.0 119.5h7m-3.5-3.5v7M436.0 117.5h7m-3.5-3.5v7M436.0 119.5h7m-3.5-3.5v7M436.0 116.5h7m-3.5-3.5v7M437.0 119.5h7m-3.5-3.5v7M437.0 134.5h7m-3.5-3.5v7M437.0 118.5h7m-3.5-3.5v7M437.0 120.5h7m-3.5-3.5v7M438.0 119.5h7m-3.5-3.5v7M438.0 122.5h7m-3.5-3.5v7M438.0 119.5h7m-3.5-3.5v7M438.0 119.5h7m-3.5-3.5v7M439.0 120.5h7m-3.5-3.5v7M439.0 118.5h7m-3.5-3.5v7M439.0 119.5h7m-3.5-3.5v7M439.0 119.5h7m-3.5-3.5v7M440.0 123.5h7m-3.5-3.5v7M440.0 119.5h7m-3.5-3.5v7M440.0 119.5h7m-3.5-3.5v7M440.0 119.5h7m-3.5-3.5v7M441.0 120.5h7m-3.5-3.5v7M441.0 118.5h7m-3.5-3.5v7M441.0 118.5h7m-3.5-3.5v7M441.0 119.5h7m-3.5-3.5v7M442.0 121.5h7m-3.5-3.5v7M442.0 126.5h7m-3.5-3.5v7M442.0 118.5h7m-3.5-3.5v7M443.0 122.5h7m-3.5-3.5v7M443.0 118.5h7m-3.5-3.5v7M443.0 117.5h7m-3.5-3.5v7M443.0 118.5h7m-3.5-3.5v7M444.0 131.5h7m-3.5-3.5v7M444.0 119.5h7m-3.5-3.5v7M444.0 118.5h7m-3.5-3.5v7M444.0 124.5h7m-3.5-3.5v7M445.0 123.5h7m-3.5-3.5v7M445.0 118.5h7m-3.5-3.5v7M445.0 134.5h7m-3.5-3.5v7M445.0 118.5h7m-3.5-3.5v7M446.0 119.5h7m-3.5-3.5v7M446.0 118.5h7m-3.5-3.5v7M446.0 118.5h7m-3.5-3.5v7M446.0 119.5h7m-3.5-3.5v7M447.0 120.5h7m-3.5-3.5v7M447.0 128.5h7m-3.5-3.5v7M447.0 120.5h7m-3.5-3.5v7M447.0 119.5h7m-3.5-3.5v7M448.0 119.5h7m-3.5-3.5v7M448.0 119.5h7m-3.5-3.5v7M448.0 118.5h7m-3.5-3.5v7M449.0 117.5h7m-3.5-3.5v7M449.0 119.5h7m-3.5-3.5v7M449.0 123.5h7m-3.5-3.5v7M449.0 118.5h7m-3.5-3.5v7M450.0 120.5h7m-3.5-3.5v7M450.0 118.5h7m-3.5-3.5v7M450.0 119.5h7m-3.5-3.5v7M450.0 118.5h7m-3.5-3.5v7M451.0 121.5h7m-3.5-3.5v7M451.0 118.5h7m-3.5-3.5v7M451.0 120.5h7m-3.5-3.5v7M451.0 130.5h7m-3.5-3.5v7M452.0 118.5h7m-3.5-3.5v7M452.0 116.5h7m-3.5-3.5v7M452.0 121.5h7m-3.5-3.5v7M452.0 119.5h7m-3.5-3.5v7M453.0 119.5h7m-3.5-3.5v7M453.0 121.5h7m-3.5-3.5v7M453.0 119.5h7m-3.5-3.5v7M453.0 125.5h7m-3.5-3.5v7M454.0 118.5h7m-3.5-3.5v7M454.0 119.5h7m-3.5-3.5v7M454.0 129.5h7m-3.5-3.5v7M455.0 120.5h7m-3.5-3.5v7M455.0 119.5h7m-3.5-3.5v7M455.0 117.5h7m-3.5-3.5v7M455.0 119.5h7m-3.5-3.5v7M456.0 119.5h7m-3.5-3.5v7M456.0 119.5h7m-3.5-3.5v7M456.0 116.5h7m-3.5-3.5v7M456.0 117.5h7m-3.5-3.5v7M457.0 118.5h7m-3.5-3.5v7M457.0 117.5h7m-3.5-3.5v7M457.0 125.5h7m-3.5-3.5v7M457.0 118.5h7m-3.5-3.5v7M458.0 123.5h7m-3.5-3.5v7M458.0 119.5h7m-3.5-3.5v7M458.0 119.5h7m-3.5-3.5v7M458.0 121.5h7m-3.5-3.5v7M459.0 120.5h7m-3.5-3.5v7M459.0 118.5h7m-3.5-3.5v7M459.0 121.5h7m-3.5-3.5v7M459.0 119.5h7m-3.5-3.5v7M460.0 121.5h7m-3.5-3.5v7M460.0 120.5h7m-3.5-3.5v7M460.0 118.5h7m-3.5-3.5v7M461.0 120.5h7m-3.5-3.5v7M461.0 121.5h7m-3.5-3.5v7M461.0 119.5h7m-3.5-3.5v7M461.0 119.5h7m-3.5-3.5v7M462.0 119.5h7m-3.5-3.5v7M462.0 120.5h7m-3.5-3.5v7M462.0 118.5h7m-3.5-3.5v7M462.0 118.5h7m-3.5-3.5v7M463.0 119.5h7m-3.5-3.5v7M463.0 120.5h7m-3.5-3.5v7M463.0 119.5h7m-3.5-3.5v7M463.0 118.5h7m-3.5-3.5v7M464.0 124.5h7m-3.5-3.5v7M464.0 132.5h7m-3.5-3.5v7M464.0 120.5h7m-3.5-3.5v7M464.0 118.5h7m-3.5-3.5v7M465.0 124.5h7m-3.5-3.5v7M465.0 118.5h7m-3.5-3.5v7M465.0 120.5h7m-3.5-3.5v7M465.0 119.5h7m-3.5-3.5v7M466.0 118.5h7m-3.5-3.5v7M466.0 126.5h7m-3.5-3.5v7M466.0 116.5h7m-3.5-3.5v7M467.0 120.5h7m-3.5-3.5v7M467.0 119.5h7m-3.5-3.5v7M467.0 126.5h7m-3.5-3.5v7M467.0 121.5h7m-3.5-3.5v7M468.0 124.5h7m-3.5-3.5v7M468.0 119.5h7m-3.5-3.5v7M468.0 118.5h7m-3.5-3.5v7M468.0 125.5h7m-3.5-3.5v7M469.0 119.5h7m-3.5-3.5v7M469.0 119.5h7m-3.5-3.5v7M469.0 118.5h7m-3.5-3.5v7M469.0 120.5h7m-3.5-3.5v7M470.0 120.5h7m-3.5-3.5v7M470.0 119.5h7m-3.5-3.5v7M470.0 122.5h7m-3.5-3.5v7M470.0 126.5h7m-3.5-3.5v7M471.0 119.5h7m-3.5-3.5v7M471.0 119.5h7m-3.5-3.5v7M471.0 119.5h7m-3.5-3.5v7M471.0 118.5h7m-3.5-3.5v7M472.0 120.5h7m-3.5-3.5v7M472.0 118.5h7m-3.5-3.5v7M472.0 120.5h7m-3.5-3.5v7M472.0 119.5h7m-3.5-3.5v7M473.0 118.5h7m-3.5-3.5v7M473.0 119.5h7m-3.5-3.5v7M473.0 118.5h7m-3.5-3.5v7M474.0 120.5h7m-3.5-3.5v7M474.0 119.5h7m-3.5-3.5v7M474.0 119.5h7m-3.5-3.5v7M474.0 120.5h7m-3.5-3.5v7M475.0 119.5h7m-3.5-3.5v7M475.0 119.5h7m-3.5-3.5v7M475.0 118.5h7m-3.5-3.5v7M475.0 120.5h7m-3.5-3.5v7M476.0 120.5h7m-3.5-3.5v7M476.0 120.5h7m-3.5-3.5v7M476.0 119.5h7m-3.5-3.5v7M476.0 119.5h7m-3.5-3.5v7M477.0 118.5h7m-3.5-3.5v7M477.0 119.5h7m-3.5-3.5v7M477.0 119.5h7m-3.5-3.5v7M477.0 118.5h7m-3.5-3.5v7M478.0 117.5h7m-3.5-3.5v7M478.0 119.5h7m-3.5-3.5v7M478.0 119.5h7m-3.5-3.5v7M478.0 121.5h7m-3.5-3.5v7M479.0 118.5h7m-3.5-3.5v7M479.0 119.5h7m-3.5-3.5v7M479.0 118.5h7m-3.5-3.5v7M480.0 118.5h7m-3.5-3.5v7M480.0 119.5h7m-3.5-3.5v7M480.0 118.5h7m-3.5-3.5v7M480.0 119.5h7m-3.5-3.5v7M481.0 119.5h7m-3.5-3.5v7M481.0 126.5h7m-3.5-3.5v7M481.0 119.5h7m-3.5-3.5v7M481.0 130.5h7m-3.5-3.5v7M482.0 119.5h7m-3.5-3.5v7M482.0 119.5h7m-3.5-3.5v7M482.0 119.5h7m-3.5-3.5v7M482.0 135.5h7m-3.5-3.5v7M483.0 120.5h7m-3.5-3.5v7M483.0 125.5h7m-3.5-3.5v7M483.0 119.5h7m-3.5-3.5v7M483.0 119.5h7m-3.5-3.5v7M484.0 122.5h7m-3.5-3.5v7M484.0 121.5h7m-3.5-3.5v7M484.0 118.5h7m-3.5-3.5v7M484.0 128.5h7m-3.5-3.5v7M485.0 120.5h7m-3.5-3.5v7M485.0 119.5h7m-3.5-3.5v7M485.0 121.5h7m-3.5-3.5v7M486.0 127.5h7m-3.5-3.5v7M486.0 119.5h7m-3.5-3.5v7M486.0 119.5h7m-3.5-3.5v7M486.0 125.5h7m-3.5-3.5v7M487.0 119.5h7m-3.5-3.5v7M487.0 119.5h7m-3.5-3.5v7M487.0 119.5h7m-3.5-3.5v7M487.0 118.5h7m-3.5-3.5v7M488.0 119.5h7m-3.5-3.5v7M488.0 120.5h7m-3.5-3.5v7M488.0 119.5h7m-3.5-3.5v7M488.0 119.5h7m-3.5-3.5v7M489.0 120.5h7m-3.5-3.5v7M489.0 119.5h7m-3.5-3.5v7M489.0 120.5h7m-3.5-3.5v7M489.0 128.5h7m-3.5-3.5v7M490.0 118.5h7m-3.5-3.5v7M490.0 130.5h7m-3.5-3.5v7M490.0 121.5h7m-3.5-3.5v7M490.0 119.5h7m-3.5-3.5v7M491.0 118.5h7m-3.5-3.5v7M491.0 122.5h7m-3.5-3.5v7M491.0 120.5h7m-3.5-3.5v7M492.0 119.5h7m-3.5-3.5v7M492.0 118.5h7m-3.5-3.5v7M492.0 119.5h7m-3.5-3.5v7M492.0 119.5h7m-3.5-3.5v7M493.0 119.5h7m-3.5-3.5v7M493.0 119.5h7m-3.5-3.5v7M493.0 123.5h7m-3.5-3.5v7M493.0 118.5h7m-3.5-3.5v7M494.0 118.5h7m-3.5-3.5v7M494.0 119.5h7m-3.5-3.5v7M494.0 119.5h7m-3.5-3.5v7M494.0 119.5h7m-3.5-3.5v7M495.0 119.5h7m-3.5-3.5v7M495.0 119.5h7m-3.5-3.5v7M495.0 119.5h7m-3.5-3.5v7M495.0 124.5h7m-3.5-3.5v7M496.0 124.5h7m-3.5-3.5v7M496.0 119.5h7m-3.5-3.5v7M496.0 119.5h7m-3.5-3.5v7M496.0 121.5h7m-3.5-3.5v7M497.0 121.5h7m-3.5-3.5v7M497.0 119.5h7m-3.5-3.5v7M497.0 119.5h7m-3.5-3.5v7M498.0 120.5h7m-3.5-3.5v7M498.0 124.5h7m-3.5-3.5v7M498.0 119.5h7m-3.5-3.5v7M498.0 120.5h7m-3.5-3.5v7M499.0 137.5h7m-3.5-3.5v7M499.0 119.5h7m-3.5-3.5v7M499.0 121.5h7m-3.5-3.5v7M499.0 121.5h7m-3.5-3.5v7M500.0 120.5h7m-3.5-3.5v7M500.0 119.5h7m-3.5-3.5v7M500.0 119.5h7m-3.5-3.5v7M500.0 119.5h7m-3.5-3.5v7M501.0 120.5h7m-3.5-3.5v7M501.0 117.5h7m-3.5-3.5v7M501.0 119.5h7m-3.5-3.5v7M501.0 119.5h7m-3.5-3.5v7M502.0 119.5h7m-3.5-3.5v7M502.0 119.5h7m-3.5-3.5v7M502.0 119.5h7m-3.5-3.5v7M502.0 120.5h7m-3.5-3.5v7M503.0 120.5h7m-3.5-3.5v7M503.0 130.5h7m-3.5-3.5v7M503.0 136.5h7m-3.5-3.5v7M503.0 123.5h7m-3.5-3.5v7M504.0 120.5h7m-3.5-3.5v7M504.0 120.5h7m-3.5-3.5v7M504.0 125.5h7m-3.5-3.5v7M505.0 122.5h7m-3.5-3.5v7M505.0 119.5h7m-3.5-3.5v7M505.0 121.5h7m-3.5-3.5v7M505.0 119.5h7m-3.5-3.5v7M506.0 120.5h7m-3.5-3.5v7M506.0 120.5h7m-3.5-3.5v7M506.0 119.5h7m-3.5-3.5v7M506.0 120.5h7m-3.5-3.5v7M507.0 131.5h7m-3.5-3.5v7M507.0 121.5h7m-3.5-3.5v7M507.0 122.5h7m-3.5-3.5v7M507.0 134.5h7m-3.5-3.5v7M508.0 128.5h7m-3.5-3.5v7M508.0 118.5h7m-3.5-3.5v7M508.0 123.5h7m-3.5-3.5v7M508.0 121.5h7m-3.5-3.5v7M509.0 122.5h7m-3.5-3.5v7M509.0 135.5h7m-3.5-3.5v7M509.0 119.5h7m-3.5-3.5v7M509.0 119.5h7m-3.5-3.5v7M510.0 135.5h7m-3.5-3.5v7M510.0 128.5h7m-3.5-3.5v7M510.0 119.5h7m-3.5-3.5v7M511.0 120.5h7m-3.5-3.5v7M511.0 123.5h7m-3.5-3.5v7M511.0 119.5h7m-3.5-3.5v7M511.0 119.5h7m-3.5-3.5v7M512.0 119.5h7m-3.5-3.5v7M512.0 119.5h7m-3.5-3.5v7M512.0 120.5h7m-3.5-3.5v7M512.0 120.5h7m-3.5-3.5v7M513.0 121.5h7m-3.5-3.5v7M513.0 119.5h7m-3.5-3.5v7M513.0 119.5h7m-3.5-3.5v7M513.0 119.5h7m-3.5-3.5v7M514.0 119.5h7m-3.5-3.5v7M514.0 136.5h7m-3.5-3.5v7M514.0 128.5h7m-3.5-3.5v7M514.0 122.5h7m-3.5-3.5v7M515.0 119.5h7m-3.5-3.5v7M515.0 123.5h7m-3.5-3.5v7M515.0 118.5h7m-3.5-3.5v7M515.0 119.5h7m-3.5-3.5v7M516.0 134.5h7m-3.5-3.5v7M516.0 135.5h7m-3.5-3.5v7M516.0 119.5h7m-3.5-3.5v7M517.0 134.5h7m-3.5-3.5v7M517.0 124.5h7m-3.5-3.5v7M517.0 119.5h7m-3.5-3.5v7M517.0 121.5h7m-3.5-3.5v7M518.0 119.5h7m-3.5-3.5v7M518.0 119.5h7m-3.5-3.5v7M518.0 119.5h7m-3.5-3.5v7M518.0 120.5h7m-3.5-3.5v7M519.0 122.5h7m-3.5-3.5v7M519.0 124.5h7m-3.5-3.5v7M519.0 119.5h7m-3.5-3.5v7M519.0 119.5h7m-3.5-3.5v7M520.0 121.5h7m-3.5-3.5v7M520.0 119.5h7m-3.5-3.5v7M520.0 120.5h7m-3.5-3.5v7M520.0 118.5h7m-3.5-3.5v7M521.0 120.5h7m-3.5-3.5v7M521.0 120.5h7m-3.5-3.5v7M521.0 120.5h7m-3.5-3.5v7M521.0 120.5h7m-3.5-3.5v7M522.0 120.5h7m-3.5-3.5v7M522.0 118.5h7m-3.5-3.5v7M522.0 120.5h7m-3.5-3.5v7M523.0 119.5h7m-3.5-3.5v7M523.0 122.5h7m-3.5-3.5v7M523.0 119.5h7m-3.5-3.5v7M523.0 120.5h7m-3.5-3.5v7M524.0 120.5h7m-3.5-3.5v7M524.0 121.5h7m-3.5-3.5v7M524.0 120.5h7m-3.5-3.5v7M524.0 120.5h7m-3.5-3.5v7M525.0 120.5h7m-3.5-3.5v7M525.0 119.5h7m-3.5-3.5v7M525.0 120.5h7m-3.5-3.5v7M525.0 120.5h7m-3.5-3.5v7M526.0 120.5h7m-3.5-3.5v7M526.0 119.5h7m-3.5-3.5v7M526.0 119.5h7m-3.5-3.5v7M526.0 120.5h7m-3.5-3.5v7M527.0 120.5h7m-3.5-3.5v7M527.0 120.5h7m-3.5-3.5v7M527.0 119.5h7m-3.5-3.5v7M527.0 119.5h7m-3.5-3.5v7M528.0 124.5h7m-3.5-3.5v7M528.0 121.5h7m-3.5-3.5v7M528.0 119.5h7m-3.5-3.5v7M529.0 121.5h7m-3.5-3.5v7M529.0 118.5h7m-3.5-3.5v7M529.0 120.5h7m-3.5-3.5v7M529.0 120.5h7m-3.5-3.5v7M530.0 120.5h7m-3.5-3.5v7M530.0 119.5h7m-3.5-3.5v7M530.0 127.5h7m-3.5-3.5v7M530.0 119.5h7m-3.5-3.5v7M531.0 125.5h7m-3.5-3.5v7M531.0 119.5h7m-3.5-3.5v7M531.0 131.5h7m-3.5-3.5v7M531.0 133.5h7m-3.5-3.5v7M532.0 119.5h7m-3.5-3.5v7M532.0 120.5h7m-3.5-3.5v7M532.0 120.5h7m-3.5-3.5v7M532.0 120.5h7m-3.5-3.5v7M533.0 120.5h7m-3.5-3.5v7M533.0 120.5h7m-3.5-3.5v7M533.0 119.5h7m-3.5-3.5v7M533.0 126.5h7m-3.5-3.5v7M534.0 117.5h7m-3.5-3.5v7M534.0 125.5h7m-3.5-3.5v7M534.0 121.5h7m-3.5-3.5v7M534.0 119.5h7m-3.5-3.5v7M535.0 120.5h7m-3.5-3.5v7M535.0 120.5h7m-3.5-3.5v7M535.0 119.5h7m-3.5-3.5v7M536.0 120.5h7m-3.5-3.5v7M536.0 120.5h7m-3.5-3.5v7M536.0 131.5h7m-3.5-3.5v7M536.0 133.5h7m-3.5-3.5v7M537.0 124.5h7m-3.5-3.5v7M537.0 120.5h7m-3.5-3.5v7M537.0 120.5h7m-3.5-3.5v7M537.0 120.5h7m-3.5-3.5v7M538.0 120.5h7m-3.5-3.5v7M538.0 132.5h7m-3.5-3.5v7M538.0 120.5h7m-3.5-3.5v7M538.0 125.5h7m-3.5-3.5v7M539.0 124.5h7m-3.5-3.5v7M539.0 119.5h7m-3.5-3.5v7M539.0 132.5h7m-3.5-3.5v7M539.0 120.5h7m-3.5-3.5v7M540.0 120.5h7m-3.5-3.5v7M540.0 120.5h7m-3.5-3.5v7M540.0 129.5h7m-3.5-3.5v7M540.0 120.5h7m-3.5-3.5v7M541.0 125.5h7m-3.5-3.5v7M541.0 120.5h7m-3.5-3.5v7M541.0 124.5h7m-3.5-3.5v7M542.0 121.5h7m-3.5-3.5v7M542.0 120.5h7m-3.5-3.5v7M542.0 120.5h7m-3.5-3.5v7M542.0 120.5h7m-3.5-3.5v7M543.0 120.5h7m-3.5-3.5v7M543.0 120.5h7m-3.5-3.5v7M543.0 121.5h7m-3.5-3.5v7M543.0 120.5h7m-3.5-3.5v7M544.0 123.5h7m-3.5-3.5v7M544.0 120.5h7m-3.5-3.5v7M544.0 120.5h7m-3.5-3.5v7M544.0 120.5h7m-3.5-3.5v7M545.0 120.5h7m-3.5-3.5v7M545.0 120.5h7m-3.5-3.5v7M545.0 120.5h7m-3.5-3.5v7M545.0 120.5h7m-3.5-3.5v7M546.0 120.5h7m-3.5-3.5v7M546.0 118.5h7m-3.5-3.5v7M546.0 120.5h7m-3.5-3.5v7M546.0 121.5h7m-3.5-3.5v7M547.0 120.5h7m-3.5-3.5v7M547.0 120.5h7m-3.5-3.5v7M547.0 120.5h7m-3.5-3.5v7M548.0 120.5h7m-3.5-3.5v7M548.0 121.5h7m-3.5-3.5v7M548.0 120.5h7m-3.5-3.5v7M548.0 120.5h7m-3.5-3.5v7M549.0 120.5h7m-3.5-3.5v7M549.0 120.5h7m-3.5-3.5v7M549.0 131.5h7m-3.5-3.5v7M549.0 120.5h7m-3.5-3.5v7M550.0 123.5h7m-3.5-3.5v7M550.0 118.5h7m-3.5-3.5v7M550.0 120.5h7m-3.5-3.5v7M550.0 120.5h7m-3.5-3.5v7M551.0 124.5h7m-3.5-3.5v7M551.0 120.5h7m-3.5-3.5v7M551.0 120.5h7m-3.5-3.5v7M551.0 120.5h7m-3.5-3.5v7M552.0 120.5h7m-3.5-3.5v7M552.0 120.5h7m-3.5-3.5v7M552.0 123.5h7m-3.5-3.5v7M552.0 120.5h7m-3.5-3.5v7M553.0 120.5h7m-3.5-3.5v7M553.0 120.5h7m-3.5-3.5v7M553.0 120.5h7m-3.5-3.5v7M554.0 120.5h7m-3.5-3.5v7M554.0 122.5h7m-3.5-3.5v7M554.0 120.5h7m-3.5-3.5v7M554.0 123.5h7m-3.5-3.5v7M555.0 120.5h7m-3.5-3.5v7M555.0 121.5h7m-3.5-3.5v7M555.0 120.5h7m-3.5-3.5v7M555.0 122.5h7m-3.5-3.5v7M556.0 120.5h7m-3.5-3.5v7M556.0 121.5h7m-3.5-3.5v7M556.0 120.5h7m-3.5-3.5v7M556.0 121.5h7m-3.5-3.5v7M557.0 120.5h7m-3.5-3.5v7M557.0 120.5h7m-3.5-3.5v7M557.0 170.5h7m-3.5-3.5v7M571 57.5h7m-3.5-3.5v7" stroke="#9400d3" stroke-width="1" fill="none"/>
<path d="M91.5 431.5h4.5M612.5 431.5h-4.5M91.5 384.5h4.5M612.5 384.5h-4.5M91.5 336.5h4.5M612.5 336.5h-4.5M91.5 289.5h4.5M612.5 289.5h-4.5M91.5 242.5h4.5M612.5 242.5h-4.5M91.5 194.5h4.5M612.5 194.5h-4.5M91.5 147.5h4.5M612.5 147.5h-4.5M91.5 99.5h4.5M612.5 99.5h-4.5M91.5 52.5h4.5M612.5 52.5h-4.5M91.5 431.5v-4.5M91.5 45.5v4.5M143.5 431.5v-4.5M143.5 45.5v4.5M195.5 431.5v-4.5M195.5 45.5v4.5M247.5 431.5v-4.5M247.5 45.5v4.5M299.5 431.5v-4.5M299.5 45.5v4.5M352.5 431.5v-4.5M352.5 45.5v4.5M404.5 431.5v-4.5M404.5 45.5v4.5M456.5 431.5v-4.5M456.5 45.5v4.5M508.5 431.5v-4.5M508.5 45.5v4.5M560.5 431.5v-4.5M560.5 45.5v4.5M612.5 431.5v-4.5M612.5 45.5v4.5" stroke="#000" stroke-width="1" fill="none"/>
<rect x="91.5" y="45.5" width="521.0" height="386.0" fill="none" stroke="#000" stroke-width="1"/>
</svg>
</body></html>
